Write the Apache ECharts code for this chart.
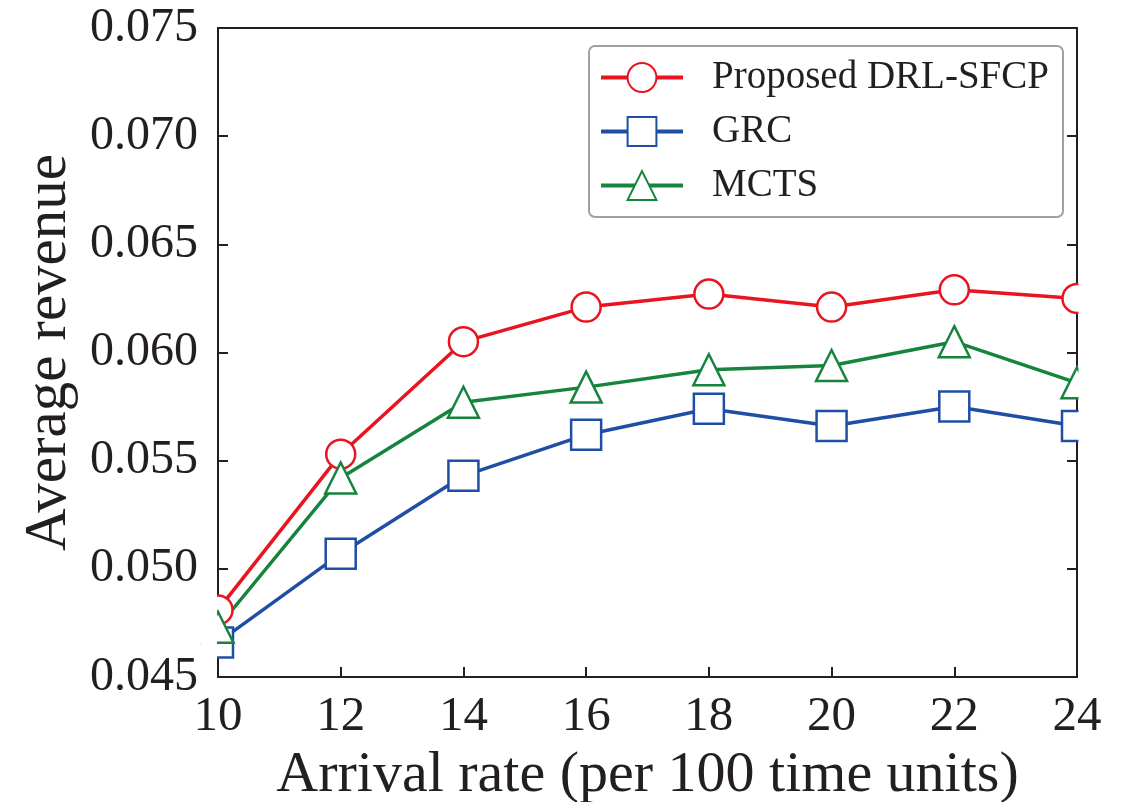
<!DOCTYPE html>
<html><head><meta charset="utf-8">
<script src="https://cdn.jsdelivr.net/npm/echarts@6/dist/echarts.min.js"></script>
<style>html,body{margin:0;padding:0;background:#fff}#c{width:1127px;height:802px}</style>
</head><body><div id="c"></div>
<script>
const categories = [10, 12, 14, 16, 18, 20, 22, 24];
const proposed = [0.0481, 0.0553, 0.0605, 0.0621, 0.0627, 0.0621, 0.0629, 0.0625];
const grc = [0.0466, 0.0507, 0.0543, 0.0562, 0.0574, 0.0566, 0.0575, 0.0566];
const mcts = [0.0473, 0.0542, 0.0577, 0.0584, 0.0592, 0.0594, 0.0605, 0.0586];
const yTicks = [0.045, 0.050, 0.055, 0.060, 0.065, 0.070, 0.075];

const font = '"Liberation Serif", "Times New Roman", serif';
const axisColor = '#231f20';
const G = { left: 218, top: 28, right: 50, bottom: 125 };
const W = 1127, H = 802;
const chart = echarts.init(document.getElementById('c'));
function mk(name, data, color, symbol, size) {
  return {
    name, type: 'line', data: categories.map((c, i) => [c, data[i]]),
    symbol, symbolSize: size, showSymbol: true,
    lineStyle: { color, width: 3.5 },
    itemStyle: { color: '#fff', borderColor: color, borderWidth: 2.5 },
    clip: true, z: 3
  };
}
chart.setOption({
  animation: false,
  grid: Object.assign({ show: false, containLabel: false, outerBoundsMode: 'none' }, G),
  // masks that clip markers at the plot frame (as in the reference)
  graphic: [
    { type: 'rect', z: 50, silent: true, shape: { x: G.left - 17, y: G.top, width: 16, height: H - G.top - G.bottom }, style: { fill: '#fff' } },
    { type: 'rect', z: 50, silent: true, shape: { x: W - G.right + 1.5, y: G.top, width: 30, height: H - G.top - G.bottom }, style: { fill: '#fff' } }
  ],
  legend: {
    right: 64, top: 46, orient: 'vertical',
    backgroundColor: '#fff', borderColor: '#a0a0a0', borderWidth: 2, borderRadius: 6,
    padding: [12, 14, 12, 10], itemWidth: 82, itemHeight: 36, itemGap: 15,
    lineStyle: { width: 4 },
    textStyle: { fontFamily: font, fontSize: 39, color: '#231f20', padding: [0, 0, 0, 24] },
    data: ['Proposed DRL-SFCP', 'GRC', 'MCTS']
  },
  xAxis: [{
    type: 'value', min: 10, max: 24, interval: 2,
    name: 'Arrival rate (per 100 time units)', nameLocation: 'middle', nameGap: 64,
    nameTextStyle: { fontFamily: font, fontSize: 58, color: axisColor },
    axisLine: { show: true, lineStyle: { color: axisColor, width: 2 } },
    axisTick: { show: true, inside: true, length: 10, lineStyle: { color: axisColor, width: 2 } },
    axisLabel: { fontFamily: font, fontSize: 49, color: axisColor, margin: 16 },
    splitLine: { show: false }
  }, {
    type: 'value', position: 'top', min: 10, max: 24, interval: 2,
    axisLine: { show: true, lineStyle: { color: axisColor, width: 2 } },
    axisTick: { show: false }, axisLabel: { show: false }, splitLine: { show: false }
  }],
  yAxis: [{
    type: 'value', min: yTicks[0], max: yTicks[yTicks.length - 1], interval: 0.005,
    name: 'Average revenue', nameLocation: 'middle', nameGap: 134,
    nameTextStyle: { fontFamily: font, fontSize: 59, color: axisColor },
    axisLine: { show: true, lineStyle: { color: axisColor, width: 2 } },
    axisTick: { show: true, inside: true, length: 10, lineStyle: { color: axisColor, width: 2 } },
    axisLabel: { fontFamily: font, fontSize: 48, color: axisColor, margin: 20, formatter: v => v.toFixed(3) },
    splitLine: { show: false }
  }, {
    type: 'value', position: 'right', min: yTicks[0], max: yTicks[yTicks.length - 1], interval: 0.005,
    axisLine: { show: true, lineStyle: { color: axisColor, width: 2 } },
    axisTick: { show: true, inside: true, length: 10, lineStyle: { color: axisColor, width: 2 } },
    axisLabel: { show: false }, splitLine: { show: false }
  }],
  series: [
    mk('Proposed DRL-SFCP', proposed, '#e8141f', 'circle', 29),
    mk('GRC', grc, '#1f4fa5', 'rect', 30),
    mk('MCTS', mcts, '#17843d', 'triangle', 31)
  ]
});
</script></body></html>
